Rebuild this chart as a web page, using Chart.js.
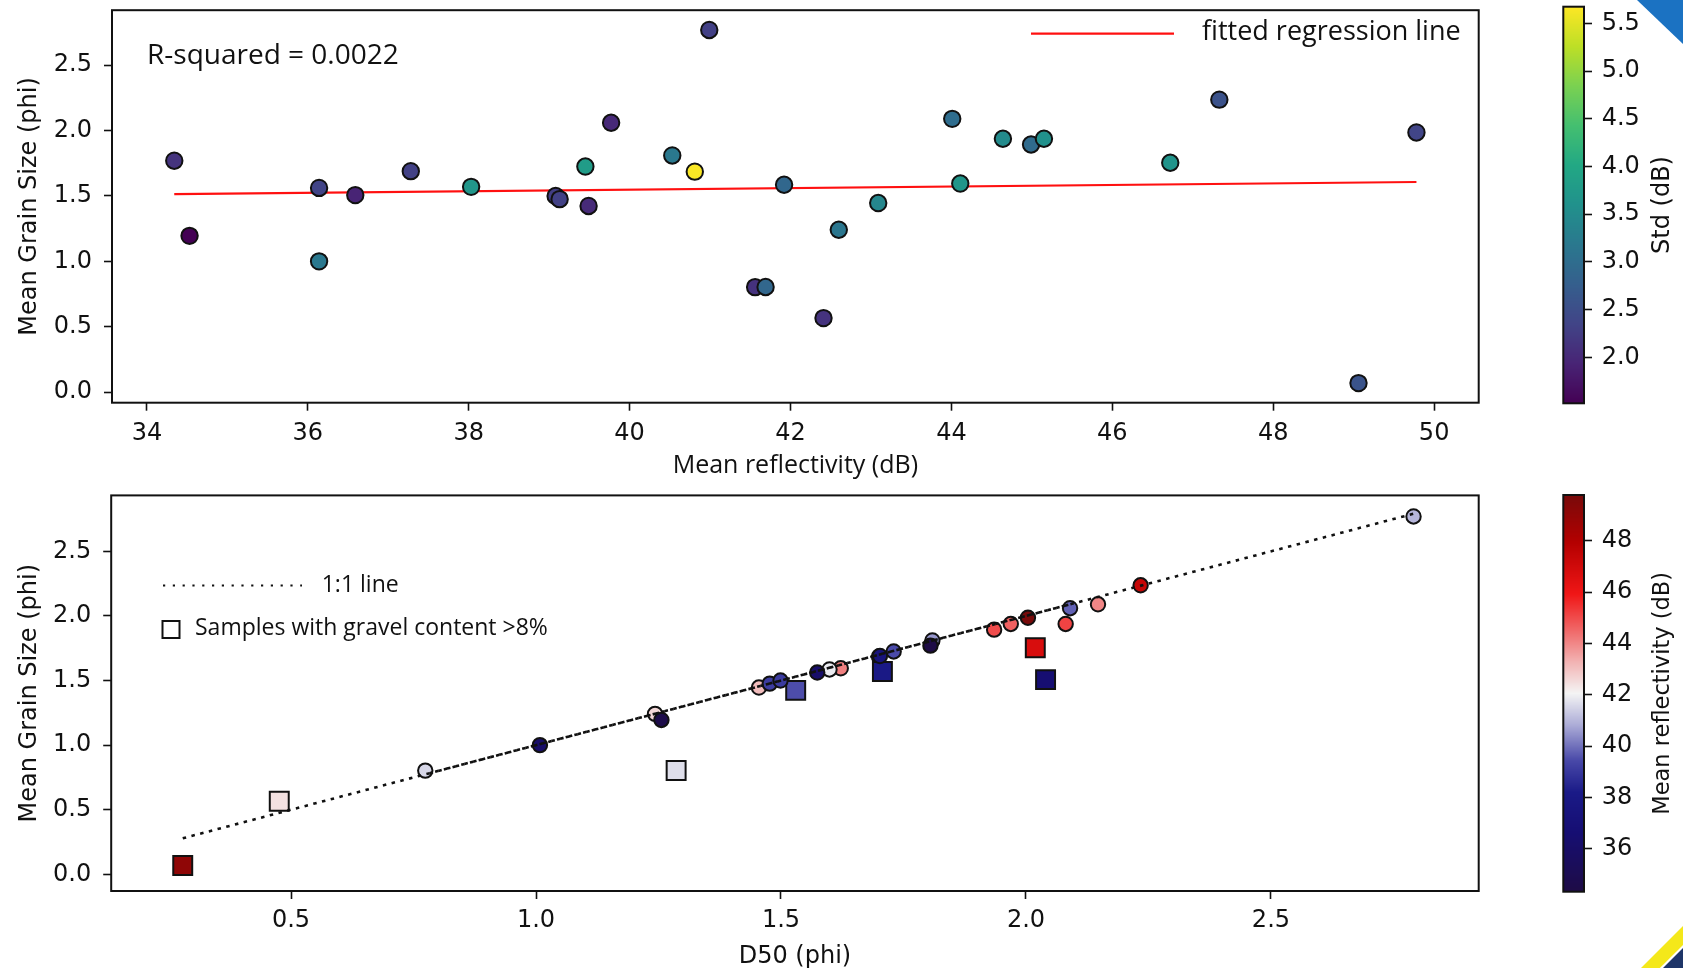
<!DOCTYPE html>
<html>
<head>
<meta charset="utf-8">
<script src="https://cdn.jsdelivr.net/npm/chart.js@4.4.0/dist/chart.umd.min.js"></script>
<style>
  html, body { margin: 0; padding: 0; background: #fff; overflow: hidden; }
  #page { position: relative; width: 1683px; height: 968px; overflow: hidden; background: #fff; }
  canvas { position: absolute; }
  #topChart { left: 0; top: 0; }
  #bottomChart { left: 0; top: 480px; }
  #topBar { left: 1540px; top: 0; }
  #bottomBar { left: 1540px; top: 480px; }
  .corner { position: absolute; }
  #cornerTop { right: 0; top: 0; width: 46px; height: 44px; background: #1b72c2; clip-path: polygon(0 0, 100% 0, 100% 100%); }
  #cornerYellow { right: 0; bottom: 0; width: 42px; height: 42px; background: #f4e81a; clip-path: polygon(100% 0, 100% 45%, 45% 100%, 0 100%); }
  #cornerNavy { right: 0; bottom: 0; width: 20px; height: 20px; background: #1e3568; clip-path: polygon(100% 0, 100% 100%, 0 100%); }
</style>
</head>
<body>
<div id="page">
  <canvas id="topChart" width="1500" height="480"></canvas>
  <canvas id="topBar" width="143" height="480"></canvas>
  <canvas id="bottomChart" width="1500" height="492"></canvas>
  <canvas id="bottomBar" width="143" height="492"></canvas>
  <div class="corner" id="cornerTop"></div>
  <div class="corner" id="cornerYellow"></div>
  <div class="corner" id="cornerNavy"></div>
</div>
<script>
// samples (ordered by mean reflectivity)
const reflectivity = [34.34, 34.53, 36.14, 36.14, 36.59, 37.28, 38.03, 39.08, 39.13, 39.45,
  39.49, 39.77, 40.53, 40.81, 40.99, 41.56, 41.69, 41.92, 42.41, 42.60,
  43.09, 44.01, 44.11, 44.64, 44.99, 45.15, 46.72, 47.33, 49.06, 49.78];
const meanGrain = [1.77, 1.195, 1.562, 1.0, 1.507, 1.69, 1.57, 1.50, 1.476, 1.725,
  1.424, 2.06, 1.81, 1.686, 2.77, 0.803, 0.804, 1.586, 0.566, 1.242,
  1.446, 2.09, 1.595, 1.938, 1.894, 1.938, 1.754, 2.237, 0.069, 1.986];
const stdDev = [2.14, 1.52, 2.35, 3.18, 1.93, 2.31, 3.68, 2.27, 2.31, 3.8,
  2.02, 2.0, 3.18, 5.65, 2.3, 2.12, 2.89, 2.9, 2.13, 3.15,
  3.43, 3.0, 3.68, 3.5, 2.97, 3.6, 3.65, 2.56, 2.58, 2.36];
const d50 = [1.805, 1.256, 1.574, 1.008, 2.04, 1.702, 1.707, 1.499, 1.477, 1.730,
  1.53, 2.09, 1.809, 1.70, 2.791, 0.774, 1.286, 1.599, 0.476, 1.243,
  1.455, 2.147, 1.622, 1.969, 1.935, 2.081, 2.019, 2.234, 0.279, 2.004];
const gravel = [0, 0, 0, 0, 1, 0, 1, 0, 0, 0,
  1, 0, 0, 0, 0, 0, 1, 0, 1, 0,
  0, 0, 0, 0, 0, 0, 1, 0, 1, 0];

// fitted regression line end points
const regX = [34.34, 49.78];
const regY = [1.514, 1.607];
// 1:1 line (the middle part is drawn twice in the original)
const oneToOne = [0.279, 2.791];
const oneToOneOverlap = [0.774, 2.09];

// axis ranges and ticks
const reflRangeAxis = [33.566, 50.554];
const grainRangeTop = [-0.081, 2.921];
const d50RangeAxis = [0.133, 2.924];
const grainRangeBottom = [-0.129, 2.933];
const reflTicksTop = [34, 36, 38, 40, 42, 44, 46, 48, 50];
const grainTicks = [0, 0.5, 1, 1.5, 2, 2.5];
const d50Ticks = [0.5, 1, 1.5, 2, 2.5];
const stdRange = [1.518, 5.674];
const stdTicks = [2.0, 2.5, 3.0, 3.5, 4.0, 4.5, 5.0, 5.5];
const reflRange = [34.325, 49.78];
const reflTicks = [36, 38, 40, 42, 44, 46, 48];

const viridisStops = ['#440154', '#482475', '#414487', '#355f8d', '#2a788e', '#21918c',
  '#22a884', '#44bf70', '#7ad151', '#bddf26', '#fde725'].map(hex => [
  parseInt(hex.slice(1, 3), 16), parseInt(hex.slice(3, 5), 16), parseInt(hex.slice(5, 7), 16)]);
const reflStops = [
  [0.0, [30, 12, 70]], [0.15, [22, 14, 115]], [0.25, [26, 26, 135]], [0.33, [72, 72, 168]],
  [0.42, [172, 172, 215]], [0.5, [244, 244, 244]], [0.58, [242, 178, 178]], [0.65, [240, 112, 112]],
  [0.75, [240, 22, 22]], [0.88, [180, 0, 0]], [1.0, [120, 10, 10]]];

function mix(a, b, f) {
  return 'rgb(' + a.map((c, i) => Math.round(c + (b[i] - c) * f)).join(',') + ')';
}
function viridis(t) {
  t = Math.min(1, Math.max(0, t));
  const p = t * (viridisStops.length - 1);
  const i = Math.min(Math.floor(p), viridisStops.length - 2);
  return mix(viridisStops[i], viridisStops[i + 1], p - i);
}
function reflMap(t) {
  t = Math.min(1, Math.max(0, t));
  let i = 0;
  while (i < reflStops.length - 2 && t > reflStops[i + 1][0]) i++;
  const [t0, c0] = reflStops[i], [t1, c1] = reflStops[i + 1];
  return mix(c0, c1, (t - t0) / (t1 - t0));
}
const stdColor = v => viridis((v - stdRange[0]) / (stdRange[1] - stdRange[0]));
const reflColor = v => reflMap((v - reflRange[0]) / (reflRange[1] - reflRange[0]));

const INK = '#111';
const tickFont = { family: 'DejaVu Sans', size: 24 };
const grid = { drawOnChartArea: false, drawTicks: true, tickLength: 8, tickColor: INK, tickWidth: 1.6 };

function fixSize(w, h) {
  return scale => {
    if (w != null) scale.width = w;
    if (h != null) scale.height = h;
    scale.paddingTop = 0; scale.paddingBottom = 0;
    scale.paddingLeft = 0; scale.paddingRight = 0;
  };
}
function setTicks(list) {
  return scale => { scale.ticks = list.map(v => ({ value: v })); };
}

const framePlugin = {
  id: 'frame',
  afterDraw(chart) {
    const { ctx, chartArea: a } = chart;
    ctx.save();
    ctx.strokeStyle = INK;
    ctx.lineWidth = 2;
    ctx.strokeRect(a.left, a.top, a.right - a.left, a.bottom - a.top);
    ctx.restore();
  }
};

const topLegend = {
  id: 'topLegend',
  afterDraw(chart) {
    const ctx = chart.ctx;
    ctx.save();
    ctx.strokeStyle = '#ff1010';
    ctx.lineWidth = 2.2;
    ctx.beginPath();
    ctx.moveTo(1031, 33.7);
    ctx.lineTo(1174, 33.7);
    ctx.stroke();
    ctx.fillStyle = INK;
    ctx.textBaseline = 'middle';
    ctx.font = '27px "Open Sans"';
    ctx.fillText('fitted regression line', 1202, 32.5);
    ctx.font = '28px "Open Sans"';
    ctx.fillText('R-squared = 0.0022', 147, 56.5);
    ctx.restore();
  }
};

const bottomLegend = {
  id: 'bottomLegend',
  afterDraw(chart) {
    const ctx = chart.ctx;
    ctx.save();
    ctx.strokeStyle = INK;
    ctx.lineWidth = 2;
    ctx.setLineDash([2.2, 7.6]);
    ctx.beginPath();
    ctx.moveTo(163, 105.5);
    ctx.lineTo(302, 105.5);
    ctx.stroke();
    ctx.setLineDash([]);
    ctx.strokeRect(162.5, 141, 17, 17);
    ctx.fillStyle = INK;
    ctx.font = '23px "Open Sans"';
    ctx.textBaseline = 'middle';
    ctx.fillText('1:1 line', 321.7, 105);
    ctx.fillText('Samples with gravel content >8%', 195, 148.5);
    ctx.restore();
  }
};

// top: mean grain size vs mean reflectivity, coloured by std
const topPoints = reflectivity.map((r, i) => ({ x: r, y: meanGrain[i], std: stdDev[i] }));

new Chart(document.getElementById('topChart'), {
  type: 'scatter',
  data: {
    datasets: [
      {
        data: topPoints,
        pointRadius: 8.2,
        pointBorderWidth: 2,
        pointBorderColor: INK,
        pointBackgroundColor: c => stdColor(c.raw.std)
      },
      {
        type: 'line',
        data: regX.map((x, i) => ({ x, y: regY[i] })),
        borderColor: '#ff1010',
        borderWidth: 2.2,
        pointRadius: 0,
        fill: false
      }
    ]
  },
  options: {
    responsive: false,
    animation: false,
    events: [],
    layout: { padding: { left: 0, top: 6.7, right: 21.3, bottom: 0 } },
    plugins: { legend: { display: false }, tooltip: { enabled: false } },
    scales: {
      x: {
        type: 'linear', min: reflRangeAxis[0], max: reflRangeAxis[1],
        afterBuildTicks: setTicks(reflTicksTop),
        afterFit: fixSize(null, 77.3),
        grid, border: { display: false },
        ticks: { font: tickFont, color: INK, padding: 8.5, maxRotation: 0, callback: v => String(v) },
        title: { display: true, text: 'Mean reflectivity (dB)', color: INK,
          font: { family: 'Open Sans', size: 25 }, padding: { top: 0, bottom: -0.6 } }
      },
      y: {
        type: 'linear', min: grainRangeTop[0], max: grainRangeTop[1],
        afterBuildTicks: setTicks(grainTicks),
        afterFit: fixSize(112, null),
        grid, border: { display: false },
        ticks: { font: tickFont, color: INK, padding: 12, callback: v => v.toFixed(1) },
        title: { display: true, text: 'Mean Grain Size (phi)', color: INK,
          font: { family: 'DejaVu Sans', size: 24 }, padding: { top: 15.6, bottom: 0 } }
      }
    }
  },
  plugins: [framePlugin, topLegend]
});

// bottom: mean grain size vs D50, coloured by mean reflectivity (drawn high to low reflectivity)
const bottomPoints = [];
for (let i = d50.length - 1; i >= 0; i--) {
  bottomPoints.push({ x: d50[i], y: meanGrain[i], refl: reflectivity[i], gravel: gravel[i] === 1 });
}

new Chart(document.getElementById('bottomChart'), {
  type: 'scatter',
  data: {
    datasets: [
      {
        type: 'line',
        data: oneToOne.map(v => ({ x: v, y: v })),
        borderColor: INK, borderWidth: 2.6, borderDash: [3.5, 5.5],
        pointRadius: 0, fill: false
      },
      {
        type: 'line',
        data: oneToOneOverlap.map(v => ({ x: v, y: v })),
        borderColor: INK, borderWidth: 2.6, borderDash: [3.5, 5.5], borderDashOffset: 4.5,
        pointRadius: 0, fill: false
      },
      {
        data: bottomPoints,
        pointStyle: c => (c.raw.gravel ? 'rect' : 'circle'),
        pointRadius: c => (c.raw.gravel ? 13.4 : 7.2),
        pointBorderWidth: 2,
        pointBorderColor: INK,
        pointBackgroundColor: c => reflColor(c.raw.refl)
      }
    ]
  },
  options: {
    responsive: false,
    animation: false,
    events: [],
    layout: { padding: { left: 0, top: 15, right: 21.3, bottom: 0 } },
    plugins: { legend: { display: false }, tooltip: { enabled: false } },
    scales: {
      x: {
        type: 'linear', min: d50RangeAxis[0], max: d50RangeAxis[1],
        afterBuildTicks: setTicks(d50Ticks),
        afterFit: fixSize(null, 81),
        grid, border: { display: false },
        ticks: { font: tickFont, color: INK, padding: 7.5, maxRotation: 0, callback: v => v.toFixed(1) },
        title: { display: true, text: 'D50 (phi)', color: INK,
          font: { family: 'DejaVu Sans', size: 24 }, padding: { top: 0, bottom: 0.9 } }
      },
      y: {
        type: 'linear', min: grainRangeBottom[0], max: grainRangeBottom[1],
        afterBuildTicks: setTicks(grainTicks),
        afterFit: fixSize(111.2, null),
        grid, border: { display: false },
        ticks: { font: tickFont, color: INK, padding: 12, callback: v => v.toFixed(1) },
        title: { display: true, text: 'Mean Grain Size (phi)', color: INK,
          font: { family: 'DejaVu Sans', size: 24 }, padding: { top: 15.6, bottom: 0 } }
      }
    }
  },
  plugins: [framePlugin, bottomLegend]
});

// colour bars
function colorbar(id, range, ticks, fmt, cmap, label, labelSize, padTop, padBottom) {
  const barPlugin = {
    id: 'bar',
    beforeDatasetsDraw(chart) {
      const { ctx, chartArea: a, scales: { y } } = chart;
      ctx.save();
      for (let py = Math.floor(a.top); py < Math.ceil(a.bottom); py++) {
        const v = y.getValueForPixel(py + 0.5);
        ctx.fillStyle = cmap((v - range[0]) / (range[1] - range[0]));
        ctx.fillRect(a.left, py, a.right - a.left, 1);
      }
      ctx.strokeStyle = INK;
      ctx.lineWidth = 2;
      ctx.strokeRect(a.left, a.top, a.right - a.left, a.bottom - a.top);
      ctx.fillStyle = INK;
      ctx.font = labelSize + 'px "DejaVu Sans"';
      ctx.textAlign = 'center';
      ctx.textBaseline = 'middle';
      ctx.translate(123, (a.top + a.bottom) / 2);
      ctx.rotate(-Math.PI / 2);
      ctx.fillText(label, 0, 0);
      ctx.restore();
    }
  };
  new Chart(document.getElementById(id), {
    type: 'scatter',
    data: { datasets: [] },
    options: {
      responsive: false,
      animation: false,
      events: [],
      layout: { padding: { left: 23.3, top: padTop, right: 0, bottom: padBottom } },
      plugins: { legend: { display: false }, tooltip: { enabled: false } },
      scales: {
        x: { display: false, min: 0, max: 1 },
        y: {
          type: 'linear', position: 'right', min: range[0], max: range[1],
          afterBuildTicks: setTicks(ticks),
          afterFit: fixSize(99, null),
          grid, border: { display: false },
          ticks: { font: tickFont, color: INK, padding: 9.7, callback: fmt }
        }
      }
    },
    plugins: [barPlugin]
  });
}

colorbar('topBar', stdRange, stdTicks, v => v.toFixed(1), viridis, 'Std (dB)', 24, 6.7, 76.7);
colorbar('bottomBar', reflRange, reflTicks, v => String(v), reflMap, 'Mean reflectivity (dB)', 22.5, 15, 80.3);
</script>
</body>
</html>
